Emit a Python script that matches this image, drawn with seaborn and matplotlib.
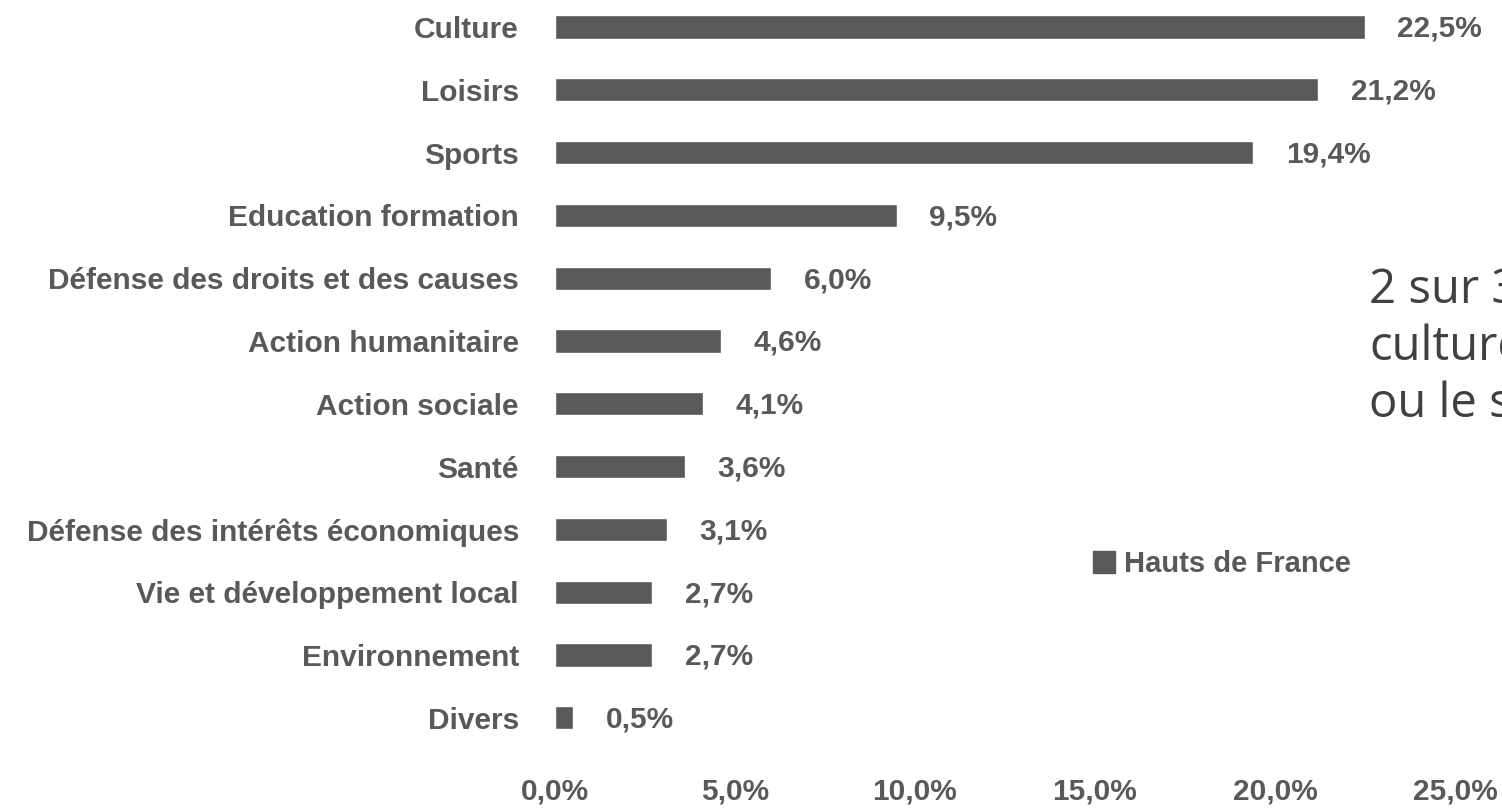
import matplotlib
matplotlib.use("Agg")
import matplotlib.pyplot as plt
import matplotlib.patches as mpatches
import seaborn as sns
import pandas as pd

# data
categories = ["Culture", "Loisirs", "Sports", "Education formation",
              "Défense des droits et des causes", "Action humanitaire",
              "Action sociale", "Santé", "Défense des intérêts économiques",
              "Vie et développement local", "Environnement", "Divers"]
values = [22.5, 21.2, 19.4, 9.5, 6.0, 4.6, 4.1, 3.6, 3.1, 2.7, 2.7, 0.5]
xticks = [0, 5, 10, 15, 20, 25]
series_name = "Hauts de France"
side_lines = ["2 sur 3", "culture", "ou le s"]

df = pd.DataFrame({"cat": categories, "val": values})

sns.set_style("white")
plt.rcParams["font.family"] = ["Liberation Sans Narrow", "Liberation Sans", "DejaVu Sans"]

grey = "#595959"
W, H = 1502, 811
fig = plt.figure(figsize=(W / 100, H / 100), dpi=100)
ax = fig.add_axes([555 / W, 36 / H, 900 / W, 775 / H])

sns.barplot(data=df, x="val", y="cat", orient="h", color=grey, saturation=1,
            width=0.37, ax=ax)

ax.set_xlim(0, 25)
ax.set_ylim(11.91, -0.43)
for s in ax.spines.values():
    s.set_visible(False)
ax.set_xlabel("")
ax.set_ylabel("")
ax.set_xticks(xticks)
ax.set_xticklabels([f"{t:.1f}%".replace(".", ",") for t in xticks])
ax.tick_params(axis="both", length=0, colors=grey, labelsize=21.5)
ax.tick_params(axis="y", pad=26)
ax.tick_params(axis="x", pad=2)
for lab in ax.get_xticklabels() + ax.get_yticklabels():
    lab.set_fontweight("bold")

for i, v in enumerate(values):
    ax.text(v + 0.9, i + 0.03, f"{v:.1f}%".replace(".", ","), va="center", ha="left",
            color=grey, fontsize=21.5, fontweight="bold")

handle = mpatches.Patch(color=grey, label=series_name)
leg = ax.legend(handles=[handle], loc="center left",
                bbox_to_anchor=(1093 / W, 247 / H), bbox_transform=fig.transFigure,
                frameon=False, handlelength=0.75, handleheight=0.75,
                handletextpad=0.3, borderpad=0, borderaxespad=0,
                prop={"size": 21, "weight": "bold"})
for t in leg.get_texts():
    t.set_color(grey)

baselines = [303, 360, 417]
for line, b in zip(side_lines, baselines):
    fig.text(1369 / W, (H - b) / H, line, ha="left", va="baseline",
             fontsize=34, color="#404040", family=["Open Sans", "DejaVu Sans"])

fig.savefig("out.png", dpi=100)
